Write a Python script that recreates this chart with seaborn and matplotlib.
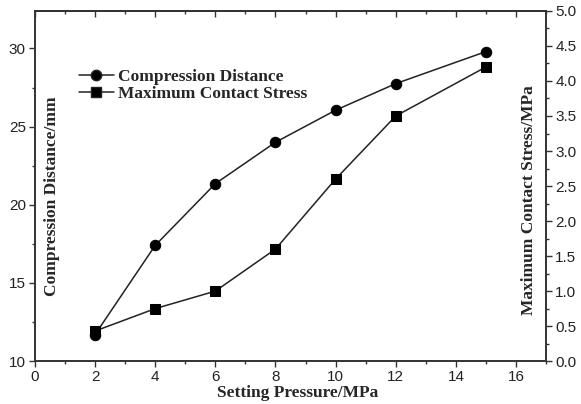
import numpy as np
import pandas as pd
import matplotlib
matplotlib.use("Agg")
import matplotlib.pyplot as plt
from matplotlib.ticker import MultipleLocator
from matplotlib.lines import Line2D
import seaborn as sns

# data
pressure = [2, 4, 6, 8, 10, 12, 15]
compression = [11.7, 17.4, 21.35, 24.0, 26.05, 27.75, 29.8]
stress = [0.43, 0.75, 1.0, 1.6, 2.6, 3.5, 4.2]

sns.set_style("ticks")
plt.rcParams['font.family'] = ['Liberation Sans', 'DejaVu Sans']

lab_font = dict(family='Liberation Serif', weight='bold', size=12.5)
col = '#222222'

fig = plt.figure(figsize=(5.81, 4.04), dpi=100)
ax = fig.add_axes([0.060, 0.106, 0.880, 0.867])

df = pd.DataFrame({'p': pressure, 'c': compression, 's': stress})
sns.lineplot(data=df, x='p', y='c', ax=ax, color=col, lw=1.1, marker='o',
             markersize=7.5, markeredgecolor='black', markerfacecolor='black')
ax2 = ax.twinx()
sns.lineplot(data=df, x='p', y='s', ax=ax2, color=col, lw=1.1, marker='s',
             markersize=6.5, markeredgecolor='black', markerfacecolor='black')

ax.set_xlim(0, 17)
ax.set_ylim(10, 32.4)
ax2.set_ylim(0, 5.0)

ax.xaxis.set_major_locator(MultipleLocator(2))
ax.xaxis.set_minor_locator(MultipleLocator(1))
ax.yaxis.set_major_locator(MultipleLocator(5))
ax.yaxis.set_minor_locator(MultipleLocator(2.5))
ax2.yaxis.set_major_locator(MultipleLocator(0.5))
ax2.yaxis.set_minor_locator(MultipleLocator(0.25))

for a in (ax, ax2):
    for s in a.spines.values():
        s.set_visible(True)
        s.set_color('#333333')
        s.set_linewidth(1.2)
    a.tick_params(which='major', direction='out', length=4, width=1, colors='#333333',
                  labelsize=11, labelcolor='#222222', pad=2.5)
    a.tick_params(which='minor', direction='out', length=2.5, width=1, colors='#333333')

top = ax.secondary_xaxis('top')
top.xaxis.set_major_locator(MultipleLocator(2))
top.xaxis.set_minor_locator(MultipleLocator(1))
top.tick_params(which='major', direction='in', length=4, width=1, colors='#333333', labeltop=False)
top.tick_params(which='minor', direction='in', length=2.5, width=1, colors='#333333')
top.spines['top'].set_color('#333333')
top.spines['top'].set_linewidth(1.2)

ax.set_xlabel('Setting Pressure/MPa', **lab_font)
ax.set_ylabel('Compression Distance/mm', **lab_font)
ax2.set_ylabel('Maximum Contact Stress/MPa', **lab_font)
ax.xaxis.set_label_coords(0.513, -0.068)
ax.yaxis.set_label_coords(0.049, 0.47)
ax2.yaxis.set_label_coords(0.951, 0.46)

handles = [
    Line2D([], [], color=col, lw=1.1, marker='o', markersize=7.5, markerfacecolor='black'),
    Line2D([], [], color=col, lw=1.1, marker='s', markersize=6.5, markerfacecolor='black'),
]
ax.legend(handles, ['Compression Distance', 'Maximum Contact Stress'],
          loc='upper left', bbox_to_anchor=(0.073, 0.855), frameon=False,
          prop=dict(family='Liberation Serif', weight='bold', size=12.5),
          handlelength=2.0, handletextpad=0.25, labelspacing=0.05, borderaxespad=0)

fig.savefig('out.png', dpi=100)
